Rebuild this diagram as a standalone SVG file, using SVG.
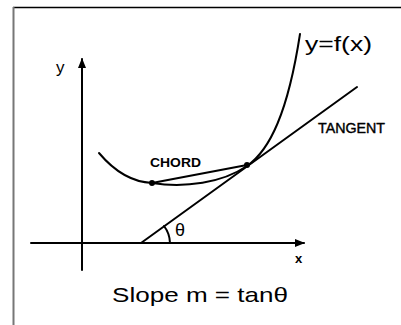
<svg xmlns="http://www.w3.org/2000/svg" width="401" height="325" viewBox="0 0 401 325">
<style>
.ln{fill:none;stroke:#000;stroke-width:2;stroke-linecap:round;stroke-linejoin:round}
.t{font-family:"Liberation Sans","DejaVu Sans",sans-serif;fill:#000}
</style>
<defs>
<marker id="ah" viewBox="0 0 10 8" refX="9" refY="4" markerWidth="10" markerHeight="8" markerUnits="userSpaceOnUse" orient="auto">
<path d="M0,0 L10,4 L0,8 Z" fill="#000"/>
</marker>
</defs>
<rect width="401" height="325" fill="#fff"/>
<g id="frame">
<line x1="13" y1="7.5" x2="401" y2="7.5" stroke="#000" stroke-width="1.5"/>
<line x1="13.5" y1="7" x2="13.5" y2="325" stroke="#777" stroke-width="2"/>
</g>
<g id="connectors">
<line class="ln" x1="82" y1="270" x2="82" y2="59" marker-end="url(#ah)"/>
<line class="ln" x1="31" y1="243" x2="304" y2="243" marker-end="url(#ah)"/>
<line class="ln" x1="141" y1="243" x2="357" y2="87"/>
<path class="ln" d="M164,226 A29,29 0 0 1 170,243"/>
<path class="ln" d="M99,153 C115,172 132,182 152,183 C185,188 222,183 247,166 C270,150 288,112 300,34"/>
<line class="ln" x1="152" y1="183" x2="247" y2="165"/>
</g>
<g id="points">
<circle cx="152" cy="183" r="3"/>
<circle cx="247" cy="165" r="3"/>
</g>
<g id="labels">
<text class="t" x="56" y="73" font-size="17">y</text>
<text class="t" x="295" y="263" font-size="13" font-weight="bold">x</text>
<text class="t" x="305" y="51" font-size="20" textLength="67" lengthAdjust="spacingAndGlyphs">y=f(x)</text>
<text class="t" x="318" y="133" font-size="14" textLength="67" lengthAdjust="spacingAndGlyphs" stroke="#000" stroke-width="0.4">TANGENT</text>
<text class="t" x="150" y="167" font-size="13" font-weight="bold" textLength="51" lengthAdjust="spacingAndGlyphs">CHORD</text>
<text class="t" x="175" y="236" font-size="18">θ</text>
<text class="t" x="112" y="302" font-size="21" textLength="176" lengthAdjust="spacingAndGlyphs">Slope  m = tanθ</text>
</g>
</svg>
